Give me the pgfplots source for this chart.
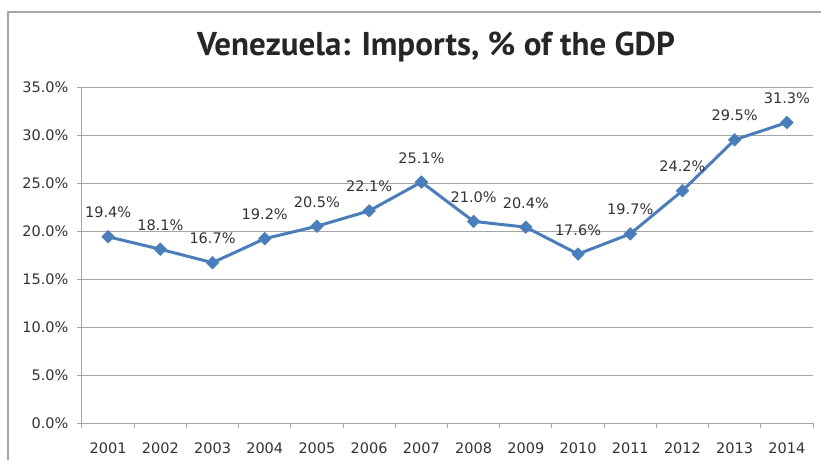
\documentclass[border=0pt]{standalone}
\usepackage{fontspec}
\setmainfont{DejaVu Sans}
\newfontfamily\tickfont{DejaVu Sans}
\newfontfamily\titlefont{PT Sans}
\usepackage{pgfplots}
\pgfplotsset{compat=1.18}
\definecolor{lineblue}{HTML}{4A7EBB}
\definecolor{gridgray}{HTML}{A6A6A6}
\definecolor{txt}{HTML}{333333}

\begin{document}
\begin{tikzpicture}
\useasboundingbox (-82pt,-36pt) rectangle (739pt,423pt);
% chart frame (cropped at right and bottom)
\draw[gridgray, line width=1.2pt] (-74pt,-40pt) -- (-74pt,411pt) -- (745pt,411pt);
\begin{axis}[
    at={(0pt,0pt)}, anchor=south west,
    scale only axis, width=731pt, height=336pt,
    xmin=0.5, xmax=14.5, ymin=0, ymax=35,
    axis x line*=bottom, axis y line*=left,
    axis line style={gridgray, line width=1pt, -},
    tick align=outside, major tick length=5pt,
    tick style={gridgray, line width=1pt},
    xtick={0.5,1.5,...,14.5}, xticklabels={},
    extra x ticks={1,2,...,14},
    extra x tick labels={2001,2002,2003,2004,2005,2006,2007,2008,2009,2010,2011,2012,2013,2014},
    extra x tick style={tick style={draw=none}, grid=none,
        xticklabel style={yshift=-11pt}},
    ytick={0,5,...,35},
    ymajorgrids, grid style={gridgray, line width=1pt},
    yticklabel={\pgfmathprintnumber[fixed,fixed zerofill,precision=1]{\tick}\%},
    yticklabel style={xshift=-5pt},
    /pgf/number format/assume math mode=true,
    ticklabel style={font=\tickfont\fontsize{14.5}{17}\selectfont, text=txt},
    nodes near coords={\pgfmathprintnumber[fixed,fixed zerofill,precision=1]{\pgfplotspointmeta}\%},
    every node near coord/.append style={anchor=south, inner sep=0pt, yshift=18.5pt,
        font=\tickfont\fontsize{14.5}{17}\selectfont, text=txt},
]
\addplot[lineblue, line width=3pt, line join=round,
    mark=square*, mark size=4.5pt, mark options={rotate=45, line width=0.5pt, fill=lineblue}]
coordinates {
    (1,19.4) (2,18.1) (3,16.7) (4,19.2) (5,20.5) (6,22.1) (7,25.1)
    (8,21.0) (9,20.4) (10,17.6) (11,19.7) (12,24.2) (13,29.5) (14,31.3)
};
\end{axis}
\node[font=\titlefont\bfseries\fontsize{33}{37}\selectfont, text=black!85] at (354pt,376pt)
    {Venezuela: Imports, \% of the GDP};
\end{tikzpicture}
\end{document}
